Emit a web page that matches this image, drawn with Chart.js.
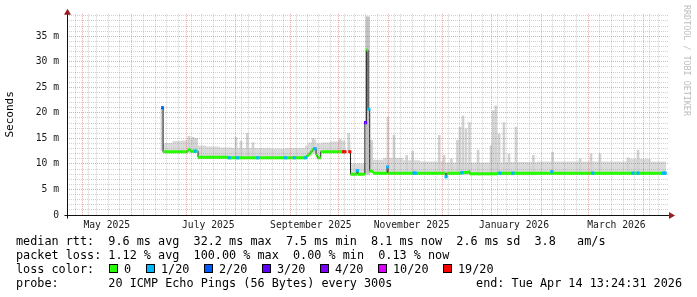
<!DOCTYPE html>
<html>
<head>
<meta charset="utf-8">
<script src="https://cdn.jsdelivr.net/npm/chart.js@4.4.1/dist/chart.umd.min.js"></script>
<style>
  html, body { margin:0; padding:0; background:#ffffff; }
  #wrap { position:relative; width:697px; height:297px; overflow:hidden; background:#ffffff; font-family:"DejaVu Sans Mono", monospace; color:#000; }
  #chart { position:absolute; left:0; top:0; }
  .lg { position:absolute; font-size:11.8px; line-height:14px; white-space:pre; }
  .box { position:absolute; top:264px; width:9px; height:9px; box-sizing:border-box; border:1px solid #000; }
  #wm { position:absolute; left:682px; top:5px; writing-mode:vertical-rl; font-size:8.4px; line-height:10px; color:#bdbdbd; white-space:pre; }
</style>
</head>
<body>
<div id="wrap">
  <canvas id="chart" width="697" height="297"></canvas>
  <div id="wm">RRDTOOL / TOBI OETIKER</div>
  <div class="lg" style="left:16px;top:233.5px">median rtt:  9.6 ms avg  32.2 ms max  7.5 ms min  8.1 ms now  2.6 ms sd  3.8   am/s</div>
  <div class="lg" style="left:16px;top:247.5px">packet loss: 1.12 % avg  100.00 % max  0.00 % min  0.13 % now</div>
  <div class="lg" style="left:16px;top:261.5px">loss color:</div>
  <div class="box" style="left:109px;background:#26ff00"></div><div class="lg" style="left:124px;top:261.5px">0</div>
  <div class="box" style="left:146px;background:#00b8ff"></div><div class="lg" style="left:161px;top:261.5px">1/20</div>
  <div class="box" style="left:204px;background:#0059ff"></div><div class="lg" style="left:219px;top:261.5px">2/20</div>
  <div class="box" style="left:262px;background:#5e00ff"></div><div class="lg" style="left:277px;top:261.5px">3/20</div>
  <div class="box" style="left:320px;background:#7e00ff"></div><div class="lg" style="left:335px;top:261.5px">4/20</div>
  <div class="box" style="left:378px;background:#dd00ff"></div><div class="lg" style="left:393px;top:261.5px">10/20</div>
  <div class="box" style="left:443px;background:#ff0000"></div><div class="lg" style="left:458px;top:261.5px">19/20</div>
  <div class="lg" style="left:16px;top:275.5px">probe:       20 ICMP Echo Pings (56 Bytes) every 300s</div>
  <div class="lg" style="right:15px;top:275.5px">end: Tue Apr 14 13:24:31 2026</div>
</div>
<script>
// ---- time axis: days counted from 2025-05-01 ----
const X_MIN = -11.19;     // graph start (~19 Apr 2025)
const X_MAX = 348.94;     // graph end (14 Apr 2026)
const Y_MAX = 39.4;       // ms

const monthStartDays = [0, 31, 61, 92, 123, 153, 184, 214, 245, 276, 304, 335];
const firstSundayDay = -4;
const monthLabelDays = [12.6, 73.3, 134.7, 195.0, 256.2, 317.5];
const monthLabels = ['May 2025', 'July 2025', 'September 2025', 'November 2025', 'January 2026', 'March 2026'];
const yTickLabels = ['0', '5 m', '10 m', '15 m', '20 m', '25 m', '30 m', '35 m'];

// ---- median RTT (ms), value holds from this day to the next ----
const medianDays = [45.6, 46.3, 55, 61.2, 62.6, 67.2, 75, 85, 95, 105, 115, 125, 131.5, 132.5, 133.5, 134.5, 135.5, 136.5, 137.8, 138.6, 140.6, 148, 155.5, 155.6, 157.6, 158.4, 162.2, 162.9, 167.0, 167.9, 168.9, 169.9, 171.0, 172.0, 180.3, 180.9, 200, 215.2, 216.0, 225, 229, 229.8, 233, 246, 260, 280, 300, 320, 340, 347.3];
const medianMs   = [21.0, 12.4, 12.4, 12.8, 12.5, 11.3, 11.3, 11.2, 11.2, 11.2, 11.2, 11.2, 11.4, 11.7, 12.0, 12.4, 12.8, 13.0, 11.7, 11.2, 12.4, 12.4, 12.4, null, 12.4, 8.0, 8.7, 8.0, 18.1, 32.3, 20.7, 8.6, 8.5, 8.2, 9.4, 8.2, 8.2, 7.5, 8.2, 8.3, 8.5, 8.1, 8.1, 8.2, 8.2, 8.2, 8.2, 8.2, 8.2, 8.2];

// ---- packet-loss marks on the median ----
const lossColors = ['#26ff00', '#00b8ff', '#0059ff', '#5e00ff', '#7e00ff', '#dd00ff', '#ff0000'];
const lossDays  = [45.95, 65.5, 85.9, 90.9, 102.9, 119.6, 124.8, 131.6, 137.1, 154.3, 155.1, 158.0, 162.5, 167.4, 169.4, 180.6, 196.4, 197.2, 215.6, 225.1, 247.8, 255.6, 278.9, 303.4, 327.4, 330.4, 345.6, 346.6];
const lossMs    = [21.0, 12.5, 11.2, 11.2, 11.2, 11.2, 11.2, 11.2, 13.0, 12.4, 12.4, 12.4, 8.7, 18.1, 20.7, 9.4, 8.2, 8.2, 7.5, 8.3, 8.2, 8.2, 8.5, 8.2, 8.2, 8.2, 8.2, 8.2];
const lossLevel = [2, 1, 1, 1, 1, 1, 1, 1, 1, 6, 6, 6, 1, 3, 1, 1, 1, 1, 1, 1, 1, 1, 1, 1, 1, 1, 1, 1];

// ---- smoke band (ms) ----
const smokeDays  = [45.6, 46.3, 52, 57, 60.5, 67.2, 72, 80, 88, 100, 110, 120, 131.2, 133, 135.5, 138.0, 140.6, 146, 152, 155.5, 155.6, 157.6, 158.4, 163, 167.0, 170.0, 171.9, 178, 190, 200, 215, 230, 250, 270, 300, 325, 338, 347.3];
const smokeLowMs = [12.2, 12.1, 12.1, 12.1, 12.2, 10.9, 10.9, 10.9, 10.9, 10.9, 10.9, 10.9, 11.0, 11.5, 12.0, 10.9, 12.1, 12.1, 12.1, 12.1, null, 12.1, 7.8, 7.8, 7.8, 8.2, 7.9, 7.9, 7.9, 7.9, 7.9, 7.8, 7.8, 7.9, 7.9, 7.9, 7.9, 7.9];
const smokeTopMs = [13.5, 14.1, 14.5, 14.6, 15.0, 13.6, 13.4, 13.2, 13.1, 13.1, 13.0, 13.1, 13.6, 14.2, 14.8, 14.0, 14.2, 14.4, 14.6, 14.5, null, 14.4, 10.1, 10.1, 10.1, 14.3, 10.8, 11.2, 10.7, 10.5, 10.3, 10.3, 10.4, 10.5, 10.5, 11.0, 10.5, 10.5];

// ---- smoke spikes (ms) ----
const spikeDays  = [45.6, 61.8, 64.2, 66.0, 89.9, 92.9, 96.7, 100.1, 136.0, 152.1, 157.3, 168.2, 169.2, 171.0, 180.8, 184.4, 192.0, 195.6, 211.5, 214.4, 218.8, 222.4, 223.9, 225.7, 227.5, 229.6, 234.7, 242.5, 243.8, 245.3, 247.3, 250.2, 253.2, 257.4, 267.8, 279.3, 295.7, 302.3, 307.6, 324.4, 330.4];
const spikeLowMs = [12.6, 12.6, 12.6, 12.6, 11.3, 11.3, 11.3, 11.3, 12.5, 12.5, 12.5, 8.2, 8.2, 8.5, 8.3, 8.3, 8.3, 8.3, 8.3, 8.3, 8.3, 8.3, 8.3, 8.3, 8.3, 8.3, 8.3, 8.3, 8.3, 8.3, 8.3, 8.3, 8.3, 8.3, 8.3, 8.3, 8.3, 8.3, 8.3, 8.3, 8.3];
const spikeTopMs = [20.8, 15.4, 15.2, 15.0, 15.2, 14.5, 16.0, 14.2, 15.0, 14.8, 16.0, 38.8, 38.8, 14.6, 19.2, 15.6, 11.7, 12.5, 15.6, 11.7, 11.0, 14.6, 17.2, 19.4, 16.9, 18.1, 12.7, 13.6, 20.4, 21.4, 15.9, 18.1, 12.0, 17.2, 11.7, 12.3, 11.0, 12.0, 12.0, 11.2, 12.7];

// ---- derived structures for the library ----
const pts = (xs, ys) => xs.map((x, i) => ({x: x, y: ys[i]}));
const greenSegs = [];
for (let i = 0; i < medianDays.length - 1; i++) {
  const m = medianMs[i];
  if (m === null) continue;
  greenSegs.push({x: medianDays[i], y: m}, {x: medianDays[i + 1], y: m}, {x: medianDays[i + 1], y: null});
}
const gridDays = [];
for (let d = firstSundayDay; d <= X_MAX; d += 7) gridDays.push(d);
monthStartDays.forEach(d => { if (!gridDays.includes(d)) gridDays.push(d); });
gridDays.sort((a, b) => a - b);

const GRID = 'rgba(143,143,143,0.42)';
const MGRID = 'rgba(222,80,80,0.5)';
const FONT = 'DejaVu Sans Mono';

const rrdAxes = {
  id: 'rrdAxes',
  afterDraw(chart) {
    const {ctx, chartArea: a} = chart;
    const xl = Math.round(a.left) + 0.5, yb = Math.round(a.bottom) + 0.5;
    ctx.save();
    ctx.strokeStyle = '#101010';
    ctx.lineWidth = 1;
    ctx.beginPath();
    ctx.moveTo(xl - 3, yb); ctx.lineTo(a.right + 1, yb);
    ctx.moveTo(xl, yb + 3); ctx.lineTo(xl, a.top - 1);
    ctx.stroke();
    ctx.fillStyle = '#9b1c1c';
    ctx.beginPath(); ctx.moveTo(xl, a.top - 5); ctx.lineTo(xl - 3.5, a.top + 1); ctx.lineTo(xl + 3.5, a.top + 1); ctx.closePath(); ctx.fill();
    ctx.beginPath(); ctx.moveTo(a.right + 6, yb); ctx.lineTo(a.right, yb - 3.5); ctx.lineTo(a.right, yb + 3.5); ctx.closePath(); ctx.fill();
    ctx.restore();
  }
};

Chart.defaults.font.family = FONT;

new Chart(document.getElementById('chart'), {
  type: 'line',
  data: {
    datasets: [
      { // 0 loss marks
        type: 'line', data: pts(lossDays, lossMs), showLine: false, order: 0,
        pointStyle: 'rect', pointRadius: 2.2, pointBorderWidth: 0,
        pointBackgroundColor: ctx => lossColors[lossLevel[ctx.dataIndex]]
      },
      { // 1 median colored (no loss)
        type: 'line', data: greenSegs, order: 1, borderColor: '#26ff00', borderWidth: 3,
        pointRadius: 0, spanGaps: false, borderCapStyle: 'butt', fill: false
      },
      { // 2 median black line
        type: 'line', data: pts(medianDays, medianMs), order: 2, stepped: true,
        borderColor: '#202020', borderWidth: 1, pointRadius: 0, spanGaps: false, fill: false
      },
      { // 3 smoke spikes
        type: 'bar', data: spikeDays.map((x, i) => ({x: x, y: [spikeLowMs[i], spikeTopMs[i]]})),
        order: 3, barThickness: 2, borderWidth: 0,
        backgroundColor: ctx => (ctx.raw && (ctx.raw.y[1] - ctx.raw.y[0]) > 25) ? '#c2c2c2' : '#d2d2d2'
      },
      { // 4 smoke band top
        type: 'line', data: pts(smokeDays, smokeTopMs), order: 4, stepped: true,
        borderWidth: 0, borderColor: 'rgba(0,0,0,0)', pointRadius: 0, spanGaps: false,
        fill: '+1', backgroundColor: '#dadada'
      },
      { // 5 smoke band bottom
        type: 'line', data: pts(smokeDays, smokeLowMs), order: 5, stepped: true,
        borderWidth: 0, borderColor: 'rgba(0,0,0,0)', pointRadius: 0, spanGaps: false, fill: false
      }
    ]
  },
  options: {
    responsive: false,
    animation: false,
    devicePixelRatio: 1,
    layout: { padding: { left: 0, right: 28, top: 12, bottom: 0 } },
    plugins: { legend: { display: false }, tooltip: { enabled: false } },
    scales: {
      x: {
        type: 'linear', position: 'bottom', min: X_MIN, max: X_MAX, offset: false,
        afterBuildTicks: s => { s.ticks = gridDays.map(v => ({value: v})); },
        afterFit: s => { s.height = 0; },
        ticks: { display: false },
        grid: { z: 1, drawTicks: false, lineWidth: 1,
                color: ctx => monthStartDays.includes(ctx.tick && ctx.tick.value) ? MGRID : GRID },
        border: { display: false, dash: [1, 1] }
      },
      xl: {
        type: 'linear', position: 'bottom', min: X_MIN, max: X_MAX, offset: false,
        afterBuildTicks: s => { s.ticks = monthLabelDays.map(v => ({value: v})); },
        afterFit: s => { s.height = 82; },
        ticks: { autoSkip: false, maxRotation: 0, padding: 4.5, color: '#1a1a1a',
                 font: { family: FONT, size: 9.7 },
                 callback: (v, i) => monthLabels[i] },
        grid: { display: false, drawTicks: false },
        border: { display: false }
      },
      y: {
        type: 'linear', position: 'left', min: 0, max: Y_MAX,
        afterBuildTicks: s => { const t = []; for (let v = 0; v <= Math.floor(Y_MAX); v++) t.push({value: v}); s.ticks = t; },
        afterFit: s => { s.width = 67; },
        ticks: { autoSkip: false, padding: 8, color: '#1a1a1a', font: { family: FONT, size: 9.7 },
                 callback: v => (v % 5 === 0 ? yTickLabels[v / 5] : '') },
        grid: { z: 1, drawTicks: false, lineWidth: 1,
                color: ctx => (ctx.tick && ctx.tick.value % 5 === 0) ? MGRID : GRID },
        border: { display: false, dash: [1, 1] },
        title: { display: true, text: 'Seconds', color: '#000', font: { family: FONT, size: 11 }, padding: { top: 4, bottom: 0 } }
      }
    }
  },
  plugins: [rrdAxes]
});
</script>
</body>
</html>
